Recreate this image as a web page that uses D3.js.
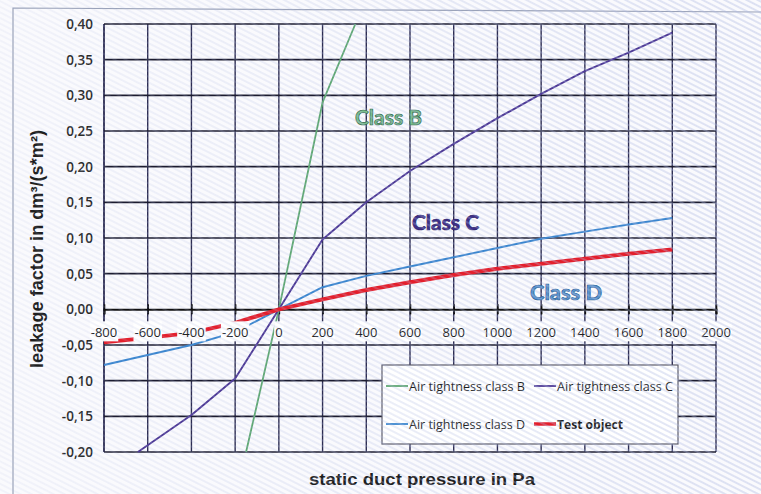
<!DOCTYPE html>
<html><head><meta charset="utf-8">
<script src="https://cdn.jsdelivr.net/npm/d3@7"></script>
<style>body{margin:0;background:#fff}</style>
</head><body>
<svg id="c" width="761" height="494"></svg>
<script>
// ---- data ----
const xTickValues = [-800,-600,-400,-200,0,200,400,600,800,1000,1200,1400,1600,1800,2000];
const yTickValues = [-0.20,-0.15,-0.10,-0.05,0,0.05,0.10,0.15,0.20,0.25,0.30,0.35,0.40];
const seriesNames = ["Air tightness class B","Air tightness class C","Air tightness class D","Test object"];
const classLabels = ["Class B","Class C","Class D"];
const pressureB = [-150,0,200,350];
const leakB = [-0.20,0,0.29,0.40];
const pressureC = [-645,-400,-200,0,200,400,600,800,1000,1200,1400,1600,1800];
const leakC = [-0.20,-0.148,-0.097,0,0.098,0.150,0.194,0.232,0.268,0.302,0.334,0.360,0.388];
const pressureD = [-800,-600,-400,-200,0,200,400,600,800,1000,1200,1400,1600,1800];
const leakD = [-0.078,-0.064,-0.050,-0.032,0,0.031,0.047,0.060,0.073,0.086,0.099,0.109,0.119,0.128];
const pressureT = [-800,-600,-400,-200,0,200,400,600,800,1000,1200,1400,1600,1800];
const leakT = [-0.046,-0.040,-0.033,-0.019,0,0.014,0.027,0.038,0.048,0.057,0.064,0.071,0.078,0.084];

// ---- layout ----
const svg = d3.select("#c");
const x = d3.scaleLinear().domain([-800,2000]).range([104,716]);
const y = d3.scaleLinear().domain([-0.20,0.40]).range([452,24]);
const colors = {B:"#5fa873", C:"#4e3a96", D:"#3a86cf", T:"#e41f2c"};
const fmt = v => d3.format(".2f")(v).replace("\u2212","-").replace(".", ",").replace("-0,00","0,00");

const defs = svg.append("defs");
const pat = defs.append("pattern").attr("id","hatch").attr("width",8).attr("height",5)
  .attr("patternUnits","userSpaceOnUse").attr("patternTransform","rotate(27)");
pat.append("line").attr("x1",0).attr("y1",1).attr("x2",8).attr("y2",1)
  .attr("stroke","#aeb9e2").attr("stroke-width",1.3);
const grad = defs.append("linearGradient").attr("id","fade").attr("x1","0").attr("x2","1").attr("y1","0").attr("y2","0");
grad.append("stop").attr("offset","0").attr("stop-color","#fff").attr("stop-opacity",0.3);
grad.append("stop").attr("offset","0.45").attr("stop-color","#fff").attr("stop-opacity",0.6);
grad.append("stop").attr("offset","1").attr("stop-color","#fff").attr("stop-opacity",1);
defs.append("mask").attr("id","m").append("rect").attr("width",761).attr("height",494).attr("fill","url(#fade)");

svg.append("rect").attr("width",761).attr("height",494).attr("fill","#fafafd");
// outer frame
svg.append("path").attr("d","M13,494 L13,8 L761,12").attr("fill","none").attr("stroke","#9aa2b8").attr("stroke-width",1.2);

const [x0,x1] = x.range();
const [yb,yt] = y.range();
// grid
svg.append("g").selectAll("line").data(xTickValues).join("line")
  .attr("x1",d=>x(d)).attr("x2",d=>x(d)).attr("y1",yt).attr("y2",yb)
  .attr("stroke","#2c2c52").attr("stroke-width",1.4);
svg.append("line").attr("x1",x0).attr("x2",x0).attr("y1",yt).attr("y2",yb).attr("stroke","#2c2c52").attr("stroke-width",1.4);
svg.append("g").selectAll("line").data(yTickValues.filter(v=>Math.abs(v)>1e-9)).join("line")
  .attr("x1",x0).attr("x2",x1).attr("y1",d=>y(d)).attr("y2",d=>y(d))
  .attr("stroke","#1c1c30").attr("stroke-width",1.7);

// x axis at zero
const xAxis = d3.axisBottom(x).tickValues(xTickValues).tickSize(5).tickFormat("");
const ax = svg.append("g").attr("transform",`translate(0,${y(0)})`).call(xAxis);
ax.select(".domain").attr("stroke","#111").attr("stroke-width",2);
ax.selectAll(".tick line").attr("stroke","#111").attr("stroke-width",1.6).attr("y1",-5);

// series
const line = d3.line().x(d=>x(d[0])).y(d=>y(d[1]));
const series = [
  {k:"B", p:pressureB, v:leakB, w:1.8},
  {k:"C", p:pressureC, v:leakC, w:1.9},
  {k:"D", p:pressureD, v:leakD, w:1.9},
  {k:"T", p:pressureT, v:leakT, w:4}
];
series.forEach(s=>{
  svg.append("path").attr("d",line(d3.zip(s.p,s.v))).attr("fill","none")
    .attr("stroke",colors[s.k]).attr("stroke-width",s.w).attr("stroke-linejoin","round");
});

// x tick labels with opaque background
const xl = svg.append("g");
xTickValues.forEach(v=>{
  const g = xl.append("g");
  const t = g.append("text").attr("x",x(v)).attr("y",y(0)+28).attr("text-anchor","middle")
    .attr("font-family","Open Sans").attr("font-size",13).attr("fill","#222").text(v);
  const bb = t.node().getBBox();
  g.insert("rect","text").attr("x",bb.x-1).attr("y",y(0)+12).attr("width",bb.width+2).attr("height",20).attr("fill","#fff");
});

// y tick labels
svg.append("g").selectAll("text").data(yTickValues).join("text")
  .attr("x",93).attr("y",d=>y(d)+5).attr("text-anchor","end")
  .attr("font-family","Open Sans").attr("font-weight",600).attr("font-size",13.5).attr("fill","#2a2a2a")
  .text(fmt);

// axis titles
svg.append("text").attr("transform","translate(43,249) rotate(-90)").attr("text-anchor","middle")
  .attr("font-family","Liberation Sans").attr("font-weight","bold").attr("font-size",17.5).attr("fill","#1e1e1e")
  .attr("textLength",238).attr("lengthAdjust","spacingAndGlyphs")
  .text("leakage factor in dm³/(s*m²)");
svg.append("text").attr("x",309).attr("y",485)
  .attr("font-family","Liberation Sans").attr("font-weight","bold").attr("font-size",17).attr("fill","#1e1e1e")
  .attr("textLength",226).attr("lengthAdjust","spacingAndGlyphs")
  .text("static duct pressure in Pa");

// class labels
const classPos = [[355,125,"B","#2f6548"],[412,230,"C","#2a1f6a"],[530,300,"D","#2a5f96"]];
const classFill = {B:"#7bbf8f", C:"#3e2f8a", D:"#5b95cf"};
classLabels.forEach((lab,i)=>{
  const [px,py,k,st] = classPos[i];
  svg.append("text").attr("x",px).attr("y",py)
    .attr("font-family","Lato").attr("font-weight","bold").attr("font-size",21)
    .attr("fill",classFill[k]).attr("stroke",st).attr("stroke-width",0.7)
    .attr("textLength",i===2?72:67).attr("lengthAdjust","spacingAndGlyphs").text(lab);
});

// legend
const lg = svg.append("g");
lg.append("rect").attr("x",382).attr("y",365).attr("width",296).attr("height",79)
  .attr("fill","#fff").attr("stroke","#5a5a6a").attr("stroke-width",1.2);
const legPos = [[386,386],[534,386],[386,424],[534,424]];
const legW = [116,116,116,66];
series.forEach((s,i)=>{
  const [lx,ly] = legPos[i];
  lg.append("line").attr("x1",lx).attr("x2",lx+22).attr("y1",ly).attr("y2",ly)
    .attr("stroke",colors[s.k]).attr("stroke-width",s.k==="T"?3.5:1.8);
  lg.append("text").attr("x",lx+23).attr("y",ly+4.5)
    .attr("font-family","Open Sans").attr("font-size",12.5).attr("fill","#1e1e1e")
    .attr("font-weight",s.k==="T"?"bold":"normal")
    .attr("textLength",legW[i]).attr("lengthAdjust","spacingAndGlyphs").text(seriesNames[i]);
});

// scan hatch overlay
svg.append("rect").attr("width",761).attr("height",494).attr("fill","url(#hatch)")
  .attr("mask","url(#m)").attr("opacity",0.6).style("pointer-events","none");
</script>
</body></html>
